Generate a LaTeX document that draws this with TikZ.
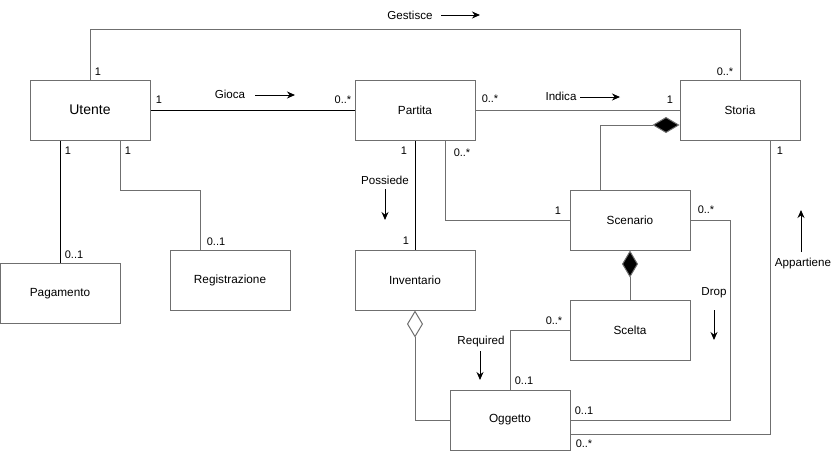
\documentclass[tikz,border=0pt]{standalone}
\usepackage{fontspec}
\setmainfont{Liberation Sans}
\usetikzlibrary{arrows.meta,calc}
\definecolor{bd}{HTML}{6F6F6F}
\begin{document}
\begin{tikzpicture}[x=1pt,y=-1pt,
  cls/.style={draw=bd, line width=1pt, fill=white, minimum width=120pt, minimum height=60pt, inner sep=0pt, font=\fontsize{11.8}{14}\selectfont},
  gl/.style={draw=bd, line width=1pt},
  bl/.style={draw=black, line width=1pt},
  mult/.style={font=\fontsize{11}{13}\selectfont, inner sep=0pt},
  lbl/.style={font=\fontsize{11.6}{14}\selectfont, inner sep=0pt},
  dirarrow/.style={draw=black, line width=1pt, -{Stealth[length=8pt,width=7pt]}},
  comp/.style={-{Diamond[length=27pt,width=16pt,fill=black]}},
  aggr/.style={-{Diamond[length=27pt,width=16pt,open,fill=white]}}]
\useasboundingbox (0,0) rectangle (835,461);

% classes
\node[cls, font=\fontsize{14}{16}\selectfont] (Utente) at (90,110) {Utente};
\node[cls] (Partita) at (415,110) {Partita};
\node[cls] (Storia) at (740,110) {Storia};
\node[cls] (Scenario) at (630,220) {Scenario};
\node[cls] (Scelta) at (630,330) {Scelta};
\node[cls] (Oggetto) at (510,420) {Oggetto};
\node[cls] (Inventario) at (415,280) {Inventario};
\node[cls] (Registrazione) at (230,280) {Registrazione};
\node[cls] (Pagamento) at (60,293.5) {Pagamento};

% connectors
\draw[gl] (Utente.north) -- ++(0,-50) -| (Storia.north);
\draw[bl] (Utente.east) -- (Partita.west);
\draw[gl] (Partita.east) -- (Storia.west);
\draw[gl, comp] ([xshift=-30pt]Scenario.north) |- ([yshift=-15pt]Storia.west);
\draw[gl] ([xshift=30pt]Partita.south) |- (Scenario.west);
\draw[bl] (Partita.south) -- (Inventario.north);
\draw[bl] ([xshift=-30pt]Utente.south) -- (Pagamento.north);
\draw[gl] ([xshift=30pt]Utente.south) -- ++(0,50) -| ([xshift=-30pt]Registrazione.north);
\draw[gl, comp] (Scelta.north) -- (Scenario.south);
\draw[gl, aggr] (Oggetto.west) -| (Inventario.south);
\draw[gl] (Scelta.west) -| (Oggetto.north);
\draw[gl] (Scenario.east) -- ++(40,0) |- (Oggetto.east);
\draw[gl] ([xshift=30pt]Storia.south) |- ([yshift=-14pt]Oggetto.east);

% Gestisce
\node[mult] (m1) at (98,72) {1};
\node[mult] (m2) at (725,72) {0..*};
\node[lbl] (gest) at (410,15) {Gestisce};
\coordinate (gA) at (441,15);
\coordinate (gB) at (480,15);
\draw[dirarrow] (gA) -- (gB);

% Gioca
\node[mult] (m3) at (159,100) {1};
\node[mult] (m4) at (343,100) {0..*};
\node[lbl] (gioca) at (230,94) {Gioca};
\coordinate (ioA) at (255,95);
\coordinate (ioB) at (295,95);
\draw[dirarrow] (ioA) -- (ioB);

% Indica
\node[mult] (m5) at (490,99) {0..*};
\node[mult] (m6) at (670,100) {1};
\node[lbl] (indica) at (561,96) {Indica};
\coordinate (inA) at (580,97);
\coordinate (inB) at (620,97);
\draw[dirarrow] (inA) -- (inB);

% Possiede
\node[mult] (m7) at (404,151) {1};
\node[mult] (m8) at (406,241) {1};
\node[lbl] (poss) at (385,180) {Possiede};
\coordinate (pA) at (385,189);
\coordinate (pB) at (385,220);
\draw[dirarrow] (pA) -- (pB);

% Partita - Scenario
\node[mult] (m9) at (462,153) {0..*};
\node[mult] (m10) at (558,211) {1};

% Utente - Pagamento / Registrazione
\node[mult] (m11) at (68,151) {1};
\node[mult] (m12) at (128,151) {1};
\node[mult] (m13) at (74,255) {0..1};
\node[mult] (m14) at (216,242) {0..1};

% Storia - Oggetto
\node[mult] (m15) at (780,151) {1};
\node[mult] (m16) at (584,444) {0..*};
\node[lbl] (app) at (803,263) {Appartiene};
\coordinate (aA) at (801,252);
\coordinate (aB) at (801,210);
\draw[dirarrow] (aA) -- (aB);

% Scenario - Oggetto (Drop)
\node[mult] (m17) at (706,210) {0..*};
\node[mult] (m18) at (584,411) {0..1};
\node[lbl] (drop) at (714,293) {Drop};
\coordinate (dA) at (714,310);
\coordinate (dB) at (714,340);
\draw[dirarrow] (dA) -- (dB);

% Scelta - Oggetto (Required)
\node[mult] (m19) at (554,321) {0..*};
\node[mult] (m20) at (524,381) {0..1};
\node[lbl] (req) at (481,341) {Required};
\coordinate (rA) at (480,351);
\coordinate (rB) at (480,380);
\draw[dirarrow] (rA) -- (rB);
\end{tikzpicture}
\end{document}
